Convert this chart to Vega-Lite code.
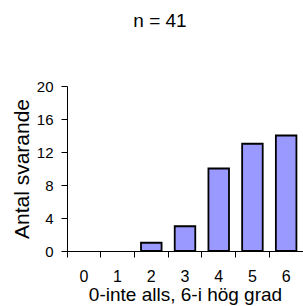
{
  "$schema": "https://vega.github.io/schema/vega-lite/v6.json",
  "autosize": "none",
  "padding": {"left": 67, "top": 86, "right": 0, "bottom": 55},
  "width": 236,
  "height": 165,
  "background": "white",
  "config": {"font": "Liberation Sans", "view": {"stroke": null}},
  "title": {"text": "n = 41", "fontSize": 19, "fontWeight": "normal", "color": "black", "anchor": "middle", "dx": -25, "baseline": "bottom", "offset": 29},
  "data": {"values": [
    {"score": "0", "count": 0},
    {"score": "1", "count": 0},
    {"score": "2", "count": 1},
    {"score": "3", "count": 3},
    {"score": "4", "count": 10},
    {"score": "5", "count": 13},
    {"score": "6", "count": 14}
  ]},
  "mark": {"type": "bar", "fill": "#9999FF", "stroke": "black", "strokeWidth": 1.8, "width": {"band": 0.61}},
  "encoding": {
    "x": {"field": "score", "type": "ordinal", "sort": null,
      "scale": {"paddingInner": 0, "paddingOuter": 0},
      "axis": {"title": "0-inte alls, 6-i hög grad", "titleFontSize": 19, "titleFontWeight": "normal", "titleColor": "black", "titlePadding": 1,
        "labelAngle": 0, "labelFontSize": 16, "labelColor": "black", "labelPadding": 11,
        "bandPosition": 0, "tickSize": 6, "tickColor": "black", "domainColor": "black", "grid": false}},
    "y": {"field": "count", "type": "quantitative",
      "scale": {"domain": [0, 20]},
      "axis": {"title": "Antal svarande", "titleFontSize": 21, "titleFontWeight": "normal", "titleColor": "black", "titlePadding": 4,
        "values": [0, 4, 8, 12, 16, 20], "labelFontSize": 15, "labelColor": "black", "labelPadding": 8,
        "tickSize": 6, "tickColor": "black", "domainColor": "black", "grid": false}},
    "strokeOpacity": {"condition": {"test": "datum.count == 0", "value": 0}, "value": 1}
  }
}
